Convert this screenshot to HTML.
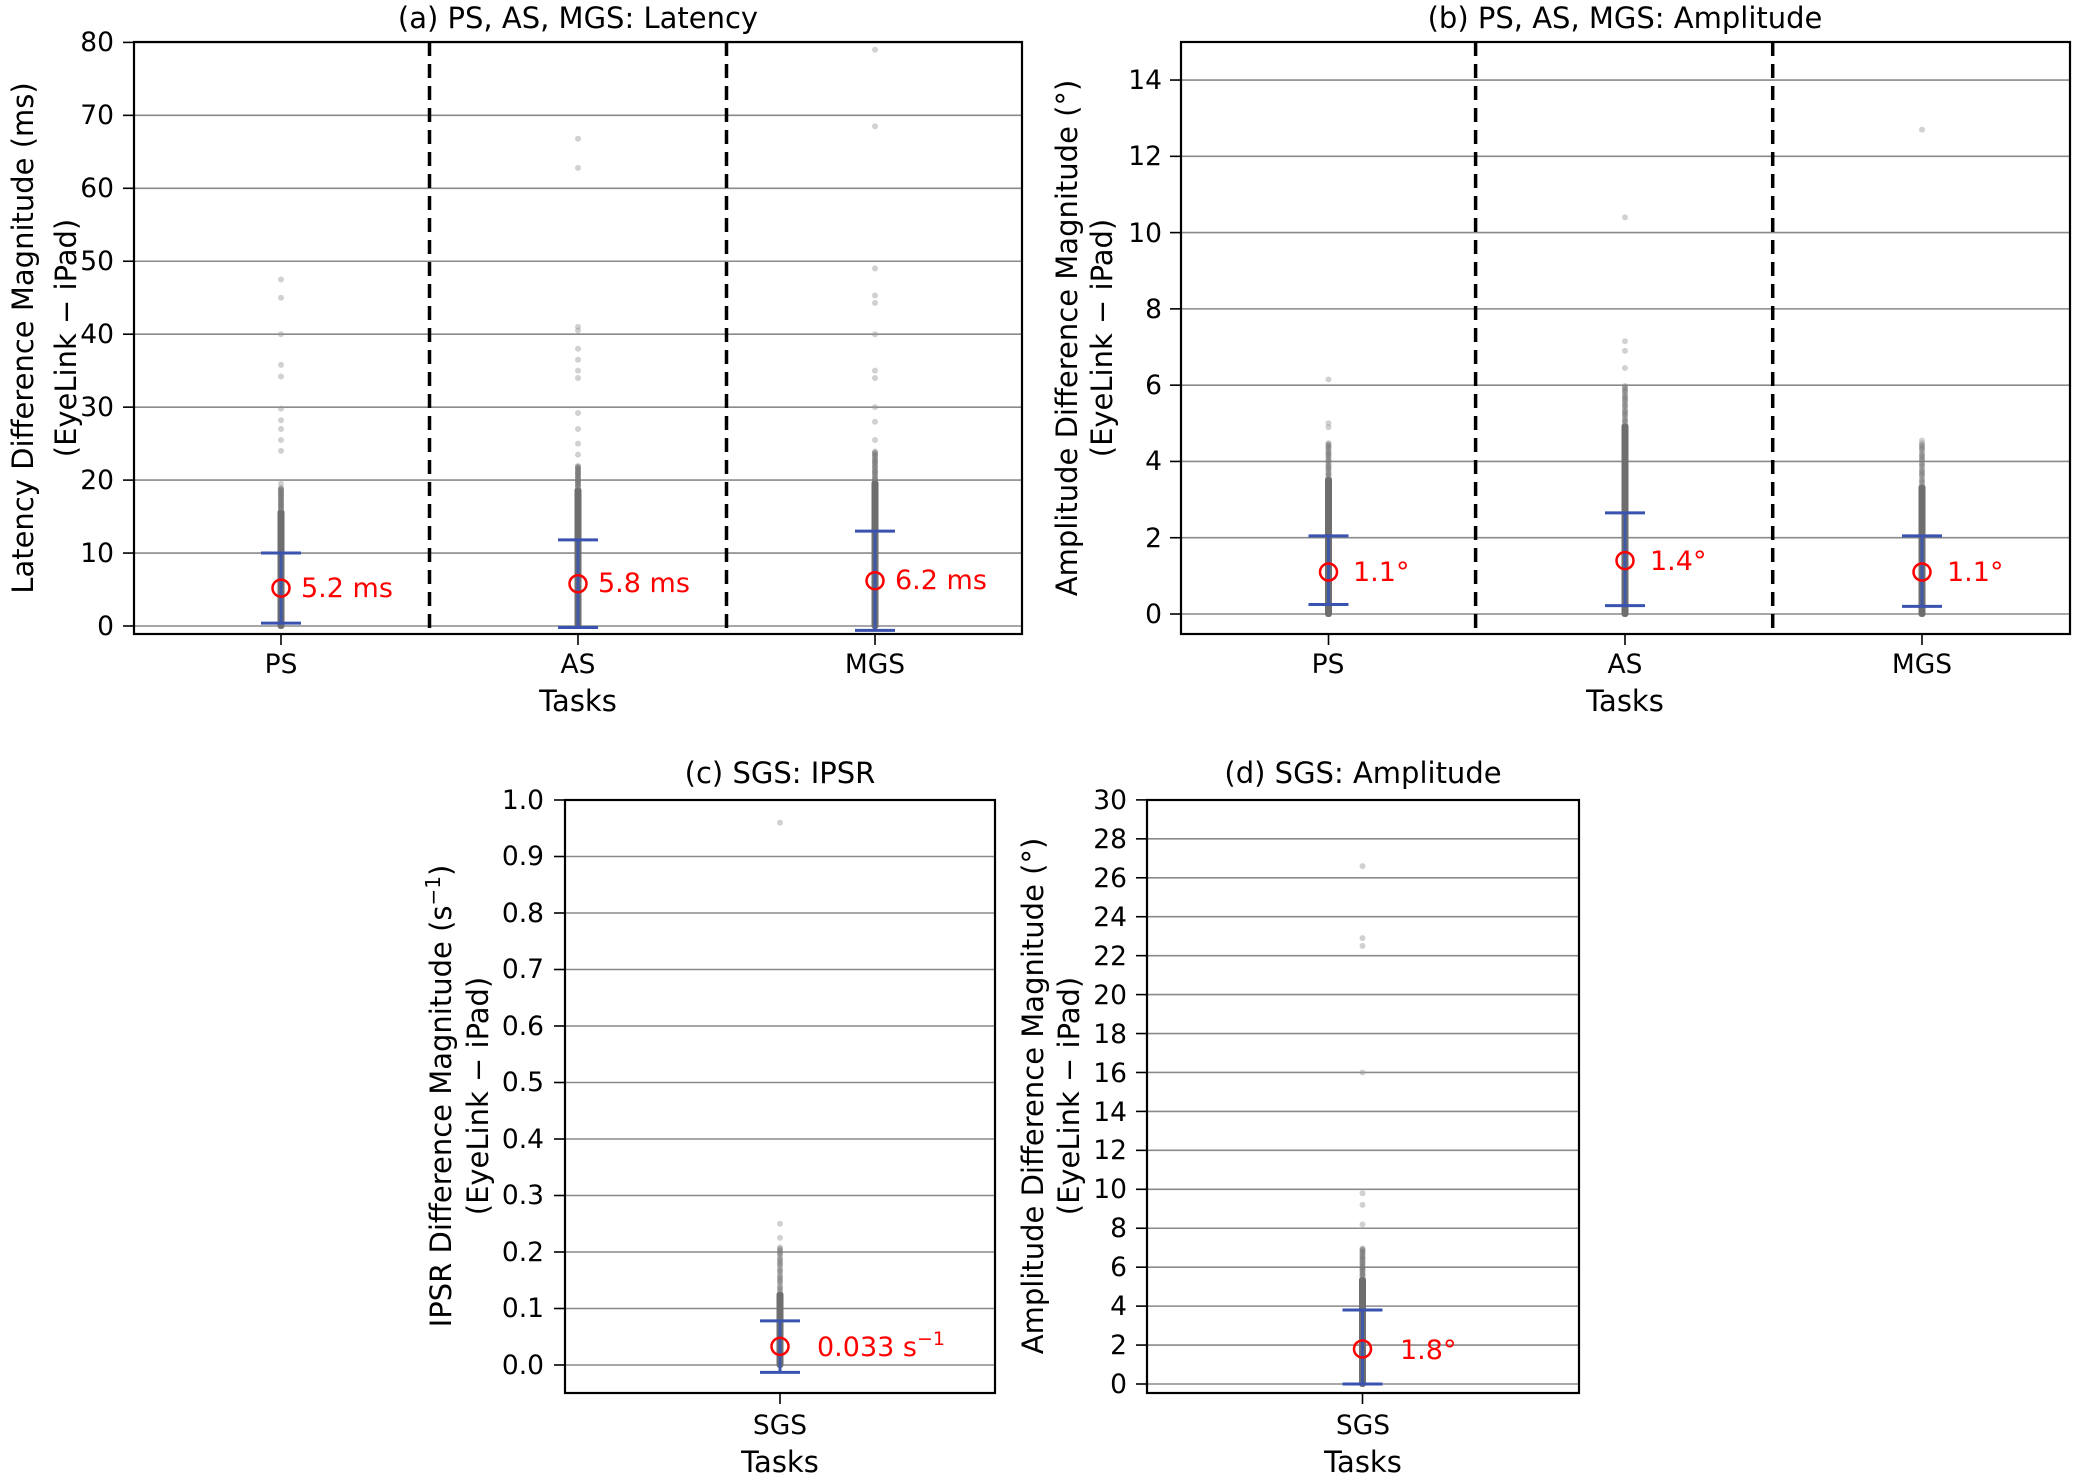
<!DOCTYPE html>
<html><head><meta charset="utf-8"><style>
html,body{margin:0;padding:0;background:#fff}
svg{display:block}
text{font-family:"DejaVu Sans","Liberation Sans",sans-serif;fill:#000}
.t{font-size:26.5px}
.ti{font-size:29px}
.l{font-size:29px}
.r{fill:#f00;font-size:27px}
</style></head><body>
<svg id="s" width="2075" height="1477" viewBox="0 0 2075 1477" xmlns="http://www.w3.org/2000/svg">
<g id="g"></g>
<text class="ti" x="578" y="28" text-anchor="middle">(a) PS, AS, MGS: Latency</text>
<text class="ti" x="1625" y="28" text-anchor="middle">(b) PS, AS, MGS: Amplitude</text>
<text class="ti" x="780" y="783" text-anchor="middle">(c) SGS: IPSR</text>
<text class="ti" x="1363" y="783" text-anchor="middle">(d) SGS: Amplitude</text>
<text class="t" x="281" y="673" text-anchor="middle">PS</text>
<text class="t" x="578" y="673" text-anchor="middle">AS</text>
<text class="t" x="875" y="673" text-anchor="middle">MGS</text>
<text class="t" x="1328" y="673" text-anchor="middle">PS</text>
<text class="t" x="1625" y="673" text-anchor="middle">AS</text>
<text class="t" x="1922" y="673" text-anchor="middle">MGS</text>
<text class="l" x="578" y="711" text-anchor="middle">Tasks</text>
<text class="l" x="1625" y="711" text-anchor="middle">Tasks</text>
<text class="t" x="780" y="1434" text-anchor="middle">SGS</text>
<text class="t" x="1363" y="1434" text-anchor="middle">SGS</text>
<text class="l" x="780" y="1472" text-anchor="middle">Tasks</text>
<text class="l" x="1363" y="1472" text-anchor="middle">Tasks</text>
<text class="l" transform="translate(33,338) rotate(-90)" text-anchor="middle">Latency Difference Magnitude (ms)</text>
<text class="l" transform="translate(76,338) rotate(-90)" text-anchor="middle">(EyeLink − iPad)</text>
<text class="l" transform="translate(1077,338) rotate(-90)" text-anchor="middle">Amplitude Difference Magnitude (°)</text>
<text class="l" transform="translate(1112,338) rotate(-90)" text-anchor="middle">(EyeLink − iPad)</text>
<text class="l" transform="translate(451,1096) rotate(-90)" text-anchor="middle">IPSR Difference Magnitude (s<tspan dy="-11" font-size="20">−1</tspan><tspan dy="11">)</tspan></text>
<text class="l" transform="translate(488,1096) rotate(-90)" text-anchor="middle">(EyeLink − iPad)</text>
<text class="l" transform="translate(1043,1096) rotate(-90)" text-anchor="middle">Amplitude Difference Magnitude (°)</text>
<text class="l" transform="translate(1079,1096) rotate(-90)" text-anchor="middle">(EyeLink − iPad)</text>
<g class="t" text-anchor="end">
<text x="114" y="635">0</text><text x="114" y="562">10</text><text x="114" y="489">20</text><text x="114" y="416">30</text><text x="114" y="343">40</text><text x="114" y="270">50</text><text x="114" y="197">60</text><text x="114" y="124">70</text><text x="114" y="51">80</text>
<text x="1162" y="623">0</text><text x="1162" y="547">2</text><text x="1162" y="470">4</text><text x="1162" y="394">6</text><text x="1162" y="318">8</text><text x="1162" y="242">10</text><text x="1162" y="165">12</text><text x="1162" y="89">14</text>
<text x="544" y="1374">0.0</text><text x="544" y="1317">0.1</text><text x="544" y="1261">0.2</text><text x="544" y="1204">0.3</text><text x="544" y="1148">0.4</text><text x="544" y="1091">0.5</text><text x="544" y="1035">0.6</text><text x="544" y="978">0.7</text><text x="544" y="922">0.8</text><text x="544" y="865">0.9</text><text x="544" y="809">1.0</text>
<text x="1127" y="1393">0</text><text x="1127" y="1354">2</text><text x="1127" y="1315">4</text><text x="1127" y="1276">6</text><text x="1127" y="1237">8</text><text x="1127" y="1198">10</text><text x="1127" y="1159">12</text><text x="1127" y="1121">14</text><text x="1127" y="1082">16</text><text x="1127" y="1043">18</text><text x="1127" y="1004">20</text><text x="1127" y="965">22</text><text x="1127" y="926">24</text><text x="1127" y="887">26</text><text x="1127" y="848">28</text><text x="1127" y="809">30</text>
</g>
<text class="r" x="301" y="597">5.2 ms</text>
<text class="r" x="598" y="592">5.8 ms</text>
<text class="r" x="895" y="589">6.2 ms</text>
<text class="r" x="1353" y="581">1.1°</text>
<text class="r" x="1650" y="570">1.4°</text>
<text class="r" x="1947" y="581">1.1°</text>
<text class="r" x="817" y="1356">0.033 s<tspan dy="-11" font-size="19" style="fill:#f00">−1</tspan></text>
<text class="r" x="1400" y="1359">1.8°</text>
</svg>
<script>
var g=document.getElementById('g'),NS='http://www.w3.org/2000/svg';
function el(t,a){var e=document.createElementNS(NS,t);for(var k in a)e.setAttribute(k,a[k]);g.appendChild(e);return e;}
function panel(P){
 var Y=function(v){return P.y0-v*P.k;};
 el('rect',{x:P.x0,y:P.yt,width:P.x1-P.x0,height:P.yb-P.yt,fill:'#fff'});
 for(var v=P.t0;v<=P.t1+1e-9;v+=P.ts){var y=Y(v);
  el('line',{x1:P.x0,x2:P.x1,y1:y,y2:y,stroke:'#8a8a8a','stroke-width':1.6});
  el('line',{x1:P.x0-11,x2:P.x0,y1:y,y2:y,stroke:'#000','stroke-width':1.6});}
 (P.dash||[]).forEach(function(x){el('line',{x1:x,x2:x,y1:P.yt,y2:P.yb,stroke:'#000','stroke-width':3.5,'stroke-dasharray':'14,8'});});
 P.c.forEach(function(c){
  el('line',{x1:c.x,x2:c.x,y1:P.yb,y2:P.yb+11,stroke:'#000','stroke-width':1.6});
  el('rect',{x:c.x-3.5,y:Y(c.dense),width:7,height:Y(0)-Y(c.dense)+3,fill:'#6e6e6e',rx:3});
  for(var i=0;i<30;i++){var v=c.dense+(c.fade-c.dense)*((i*0.618)%1);el('circle',{cx:c.x,cy:Y(v),r:3,fill:'#777','fill-opacity':0.35});}
  c.out.forEach(function(v){el('circle',{cx:c.x,cy:Y(v),r:3,fill:'#999','fill-opacity':0.45});});
  el('line',{x1:c.x,x2:c.x,y1:Y(c.hi),y2:Y(c.lo),stroke:'#4058a8','stroke-width':3});
  el('line',{x1:c.x-20,x2:c.x+20,y1:Y(c.hi),y2:Y(c.hi),stroke:'#3a52b0','stroke-width':3});
  el('line',{x1:c.x-20,x2:c.x+20,y1:Y(c.lo),y2:Y(c.lo),stroke:'#3a52b0','stroke-width':3});
  el('circle',{cx:c.x,cy:Y(c.m),r:8.5,fill:'none',stroke:'#f00','stroke-width':2.5});
 });
 el('rect',{x:P.x0,y:P.yt,width:P.x1-P.x0,height:P.yb-P.yt,fill:'none',stroke:'#000','stroke-width':2.2});
}
panel({x0:134,x1:1022,yt:42,yb:634,y0:626,k:7.295,t0:0,t1:80,ts:10,dash:[429.5,726.5],c:[
 {x:281,hi:10,lo:0.4,m:5.2,dense:16,fade:19,out:[19.5,24,25.5,27,28.2,29.8,34.2,35.8,40,45,47.5]},
 {x:578,hi:11.8,lo:-0.2,m:5.8,dense:19,fade:22,out:[23.5,25,27,29.2,34,35,36.5,38,40.5,41,62.8,66.8]},
 {x:875,hi:13,lo:-0.6,m:6.2,dense:20,fade:24,out:[25.5,28,30,34,35,40,44.3,45.3,49,68.5,79]}]});
panel({x0:1181,x1:2070,yt:42,yb:634,y0:614,k:38.14,t0:0,t1:14,ts:2,dash:[1475.6,1772.7],c:[
 {x:1328.5,hi:2.05,lo:0.25,m:1.1,dense:3.6,fade:4.5,out:[4.9,5.0,6.15]},
 {x:1625,hi:2.65,lo:0.22,m:1.4,dense:5.0,fade:6,out:[6.45,6.9,7.15,10.4]},
 {x:1922,hi:2.05,lo:0.2,m:1.1,dense:3.4,fade:4.5,out:[4.55,12.7]}]});
panel({x0:565,x1:995,yt:800,yb:1393,y0:1365,k:565,t0:0,t1:1.0001,ts:0.1,c:[
 {x:780,hi:0.078,lo:-0.013,m:0.033,dense:0.13,fade:0.21,out:[0.225,0.25,0.96]}]});
panel({x0:1147,x1:1579,yt:800,yb:1393,y0:1384,k:19.47,t0:0,t1:30,ts:2,c:[
 {x:1362.5,hi:3.8,lo:0,m:1.8,dense:5.5,fade:7,out:[8.2,9.2,9.8,16,22.5,22.9,26.6]}]});
</script>
</body></html>
